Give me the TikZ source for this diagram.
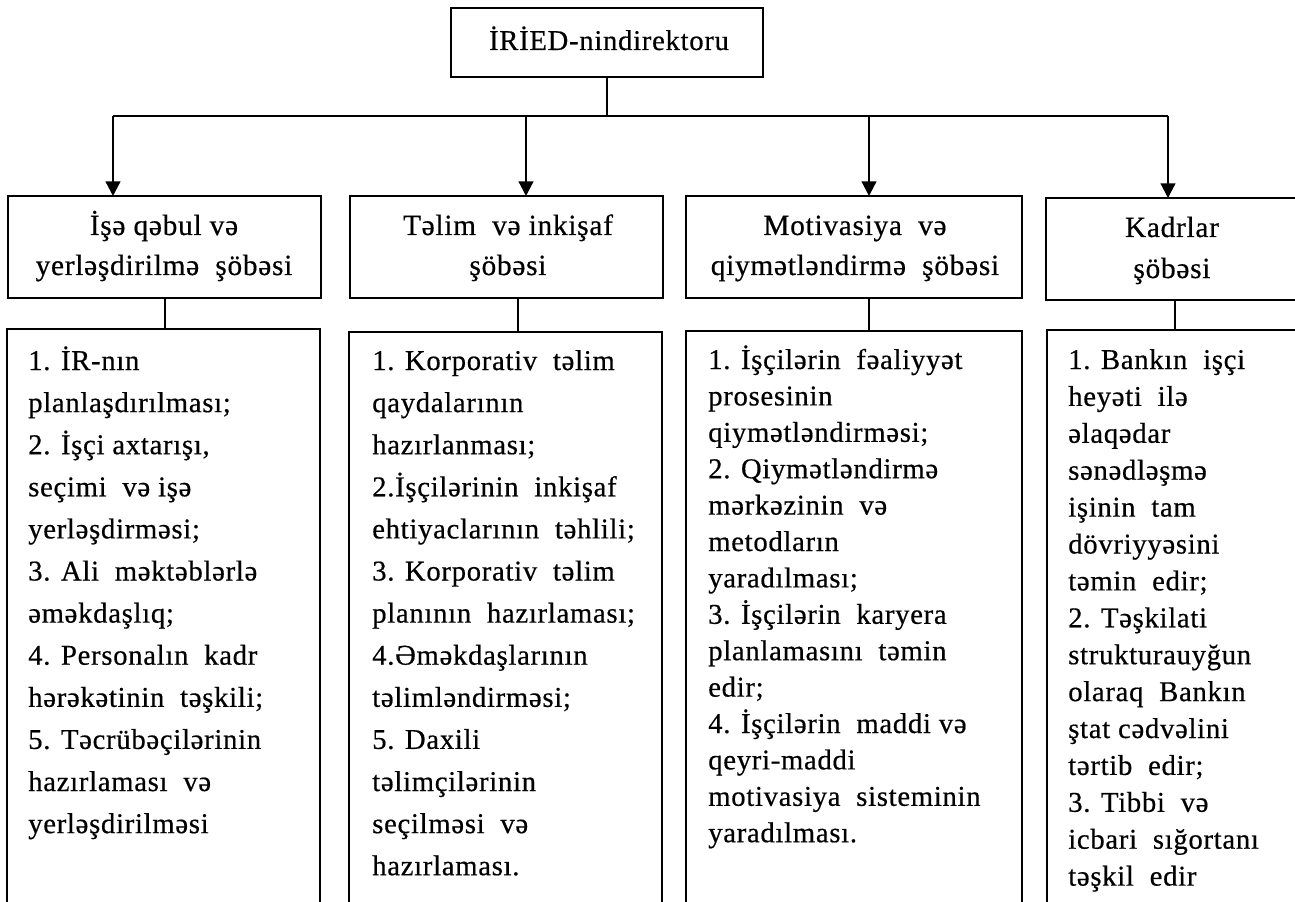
\documentclass[tikz,border=0pt]{standalone}
\usepackage{fontspec}
\setmainfont{Liberation Serif}[LetterSpace=2.5, FakeBold=0.5]
\usetikzlibrary{arrows.meta}

\tikzset{
  box/.style={draw, rectangle, line width=1.5pt, inner sep=0pt, outer sep=0pt},
  sz/.style 2 args={minimum width=#1*0.75pt, minimum height=#2*0.75pt},
  wire/.style={line width=1.7pt},
  down/.style={wire, -{Triangle[length=11pt, width=11pt]}},
  headtxt/.style={inner sep=0pt, anchor=base, font=\fontsize{22pt}{26pt}\selectfont},
  toptxt/.style={inner sep=0pt, anchor=base, font=\fontsize{21.5pt}{26pt}\selectfont},
  itemtxt/.style={inner sep=0pt, anchor=base west, font=\fontsize{21.5pt}{26pt}\selectfont},
}

\begin{document}
\begin{tikzpicture}[x=0.75pt, y=-0.75pt]
\useasboundingbox (0,0) rectangle (1295,902);
\clip (0,0) rectangle (1295,902);

% director
\node[box, sz={312}{69}] (top) at (607,42.5) {};
\node[toptxt] (toplbl) at (609,50) {İRİED-nindirektoru};

% departments
\node[box, sz={313}{102}] (h1) at (164.5,247) {};
\node[box, sz={313}{102}] (h2) at (506.5,247) {};
\node[box, sz={336}{102}] (h3) at (854,247) {};
\node[box, sz={256}{102}] (h4) at (1174,249) {};

\node[headtxt] (h1a) at (164,235) {İşə qəbul və};
\node[headtxt] (h1b) at (164,275) {yerləşdirilmə\ \ şöbəsi};
\node[headtxt] (h2a) at (508,235) {Təlim\ \ və inkişaf};
\node[headtxt] (h2b) at (508,275) {şöbəsi};
\node[headtxt] (h3a) at (855,235) {Motivasiya\ \ və};
\node[headtxt] (h3b) at (855,275) {qiymətləndirmə\ \ şöbəsi};
\node[headtxt] (h4a) at (1172,237) {Kadrlar};
\node[headtxt] (h4b) at (1172,278) {şöbəsi};

% duty lists (open at the bottom)
\node[box, sz={313}{631}] (l1) at (163.5,644.5) {};
\node[box, sz={313}{628}] (l2) at (505.5,646) {};
\node[box, sz={336}{629}] (l3) at (854,645.5) {};
\node[box, sz={255}{630}] (l4) at (1174.5,645) {};

% bus and branch points
\coordinate (j1) at (113,116);
\coordinate (j2) at (526,116);
\coordinate (j3) at (869,116);
\coordinate (j4) at (1168,116);
\coordinate (s1) at (165,300);
\coordinate (s2) at (518,300);
\coordinate (s3) at (869,300);
\coordinate (s4) at (1175,300);

\draw[wire] (top.south) -- (top.south |- j1);
\draw[wire] (j1) -- (j4);
\draw[down] (j1) -- (j1 |- h1.north);
\draw[down] (j2) -- (j2 |- h2.north);
\draw[down] (j3) -- (j3 |- h3.north);
\draw[down] (j4) -- (j4 |- h4.north);

\draw[wire] (s1 |- h1.south) -- (s1 |- l1.north);
\draw[wire] (s2 |- h2.south) -- (s2 |- l2.north);
\draw[wire] (s3 |- h3.south) -- (s3 |- l3.north);
\draw[wire] (s4 |- h4.south) -- (s4 |- l4.north);

% list texts
\foreach \t [count=\i] in {1. İR-nın, planlaşdırılması;, {2. İşçi axtarışı,},
  seçimi\ \ və işə, yerləşdirməsi;, 3. Ali\ \ məktəblərlə, əməkdaşlıq;,
  4. Personalın\ \ kadr, hərəkətinin\ \ təşkili;, 5. Təcrübəçilərinin,
  hazırlaması\ \ və, yerləşdirilməsi}
  \node[itemtxt] (a\i) at (28,{370+42.1*(\i-1)}) {\t};

\foreach \t [count=\i] in {1. Korporativ\ \ təlim, qaydalarının, hazırlanması;,
  2.İşçilərinin\ \ inkişaf, ehtiyaclarının\ \ təhlili;, 3. Korporativ\ \ təlim,
  planının\ \ hazırlaması;, 4.Əməkdaşlarının, təlimləndirməsi;, 5. Daxili,
  təlimçilərinin, seçilməsi\ \ və, hazırlaması.}
  \node[itemtxt] (b\i) at (372,{370+42.1*(\i-1)}) {\t};

\foreach \t [count=\i] in {1. İşçilərin\ \ fəaliyyət, prosesinin, qiymətləndirməsi;,
  2. Qiymətləndirmə, mərkəzinin\ \ və, metodların, yaradılması;,
  3. İşçilərin\ \ karyera, planlamasını\ \ təmin, edir;, 4. İşçilərin\ \ maddi və,
  qeyri-maddi, motivasiya\ \ sisteminin, yaradılması.}
  \node[itemtxt] (c\i) at (708,{369+36.4*(\i-1)}) {\t};

\foreach \t [count=\i] in {1. Bankın\ \ işçi, heyəti\ \ ilə, əlaqədar, sənədləşmə,
  işinin\ \ tam, dövriyyəsini, təmin\ \ edir;, 2. Təşkilati, strukturauyğun,
  olaraq\ \ Bankın, ştat cədvəlini, tərtib\ \ edir;, 3. Tibbi\ \ və,
  icbari\ \ sığortanı, təşkil\ \ edir}
  \node[itemtxt] (d\i) at (1068,{369+36.9*(\i-1)}) {\t};
\end{tikzpicture}
\end{document}
